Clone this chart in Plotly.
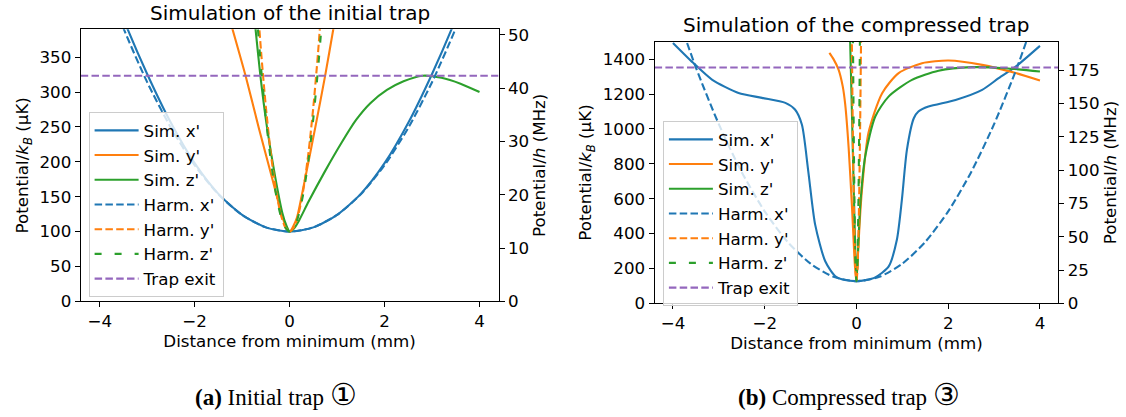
import plotly.graph_objects as go

# ---------------- data: initial trap (panel a) ----------------
init_x_grid = [-4.0, -3.5, -3.0, -2.5, -2.0, -1.5, -1.0, -0.5, 0.0, 0.5, 1.0, 1.5, 2.0, 2.5, 3.0, 3.5, 4.0]
init_sim_x = [497, 405, 326, 256, 198, 154, 124, 106, 100, 106, 124, 154, 198, 256, 326, 405, 497]
init_harm_x = [480.8, 391.6, 314.2, 248.8, 195.2, 153.6, 123.8, 106.0, 100.0, 106.0, 123.8, 153.6, 195.2, 248.8, 314.2, 391.6, 480.8]
init_sim_y_pos = [-1.35, -1.21, -0.93, -0.65, -0.37, -0.2, -0.1, 0.0, 0.08, 0.155, 0.33, 0.54, 0.75, 0.925, 1.0]
init_sim_y = [426, 392, 324, 249, 177, 133, 111, 100, 108, 120, 177, 249, 324, 392, 422]
init_sim_z_pos = [-0.8, -0.72, -0.616, -0.475, -0.3, -0.15, -0.07, 0.0, 0.1, 0.2, 0.4, 0.75, 1.1, 1.4, 1.7, 2.05, 2.4, 2.8, 3.2, 3.6, 4.0]
init_sim_z = [445, 392, 324, 249, 177, 126, 109, 100, 105, 116, 143, 187, 228, 260, 284, 303, 315.5, 323.5, 320.5, 312, 300]
init_harm_yz_pos = [-0.7, -0.6, -0.5, -0.4, -0.3, -0.2, -0.1, 0.0, 0.1, 0.2, 0.3, 0.4, 0.5, 0.6, 0.7]
init_harm_y = [450.4, 357.4, 278.8, 214.4, 164.4, 128.6, 107.2, 100.0, 107.2, 128.6, 164.4, 214.4, 278.8, 357.4, 450.4]
init_harm_z = [418.5, 334.0, 262.5, 204.0, 158.5, 126.0, 106.5, 100.0, 106.5, 126.0, 158.5, 204.0, 262.5, 334.0, 418.5]
init_trap_exit = 323.5

# ---------------- data: compressed trap (panel b) ----------------
comp_x_grid = [-4.0, -3.5, -3.0, -2.5, -2.0, -1.5, -1.0, -0.5, 0.0, 0.5, 1.0, 1.5, 2.0, 2.5, 3.0, 3.5, 4.0]
comp_harm_x = [1727, 1352, 1027, 752, 527, 352, 227, 152, 127, 152, 227, 352, 527, 752, 1027, 1352, 1727]
comp_sim_x_pos = [-4.0, -3.56, -3.15, -2.57, -2.06, -1.55, -1.34, -1.19, -1.05, -0.9, -0.68, -0.46, -0.25, 0.0,
                  0.2, 0.41, 0.7, 0.88, 0.99, 1.1, 1.25, 1.35, 1.57, 2.16, 2.74, 3.1, 3.47, 4.0]
comp_sim_x = [1493, 1379, 1283, 1206, 1178, 1149, 1111, 1025, 757, 451, 241, 155, 133, 127,
              133, 149, 210, 363, 593, 880, 1061, 1100, 1128, 1166, 1224, 1291, 1357, 1476]
comp_sim_y_pos = [-0.59, -0.5, -0.39, -0.3, -0.245, -0.17, -0.1, -0.03, 0.0, 0.03, 0.07, 0.12, 0.26, 0.56,
                  0.92, 1.43, 2.01, 2.74, 3.47, 4.0]
comp_sim_y = [1436, 1400, 1340, 1245, 1140, 891, 566, 203, 127, 270, 460, 650, 975, 1205,
              1320, 1377, 1392, 1367, 1320, 1277]
comp_sim_z_pos = [-0.14, -0.1, -0.05, 0.0, 0.04, 0.08, 0.19, 0.41, 0.7, 1.21, 1.79, 2.52, 3.25, 4.0]
comp_sim_z = [1530, 1110, 560, 127, 330, 554, 841, 1071, 1185, 1281, 1334, 1354, 1348, 1329]
comp_harm_y_pos = [-0.12, -0.1, -0.08, -0.06, -0.04, -0.02, 0.0, 0.02, 0.04, 0.06, 0.08, 0.1, 0.12]
comp_harm_z_pos = [-0.09, -0.075, -0.06, -0.045, -0.03, -0.015, 0.0, 0.015, 0.03, 0.045, 0.06, 0.075, 0.09]
comp_harm_yz = [2104, 1500, 1006, 621, 347, 182, 127, 182, 347, 621, 1006, 1500, 2104]
comp_trap_exit = 1352

uK_per_MHz = 7.638          # conversion between the two y scales
x_limits = [-4.4, 4.4]

# ---------------- style ----------------
FONT = "DejaVu Sans"
FS = 16.7
BLUE, ORANGE, GREEN, PURPLE = "#1f77b4", "#ff7f0e", "#2ca02c", "#9467bd"
LW = 2.1
W, H = 1126, 417

fig = go.Figure()


def add(x, y, name, color, dash, xa, ya, legend, shape="spline"):
    fig.add_trace(go.Scatter(
        x=x, y=y, name=name, mode="lines", xaxis=xa, yaxis=ya, legend=legend,
        line=dict(color=color, width=LW, dash=dash, shape=shape, smoothing=0.7),
        hoverinfo="skip"))


DASH = "7.5px,3.3px"
DASH_Z = "7px,13px"

for (xa, ya, leg, sx, sxx, syp, sy, szp, sz, hxx, hx, hyp, hy, hzp, hz, te) in [
    ("x", "y", "legend", init_x_grid, init_sim_x, init_sim_y_pos, init_sim_y, init_sim_z_pos, init_sim_z,
     init_x_grid, init_harm_x, init_harm_yz_pos, init_harm_y, init_harm_yz_pos, init_harm_z, init_trap_exit),
    ("x2", "y3", "legend2", comp_sim_x_pos, comp_sim_x, comp_sim_y_pos, comp_sim_y, comp_sim_z_pos, comp_sim_z,
     comp_x_grid, comp_harm_x, comp_harm_y_pos, comp_harm_yz, comp_harm_z_pos, comp_harm_yz, comp_trap_exit),
]:
    add(sx, sxx, "Sim. x'", BLUE, "solid", xa, ya, leg)
    add(syp, sy, "Sim. y'", ORANGE, "solid", xa, ya, leg)
    add(szp, sz, "Sim. z'", GREEN, "solid", xa, ya, leg)
    add(hxx, hx, "Harm. x'", BLUE, DASH, xa, ya, leg)
    add(hyp, hy, "Harm. y'", ORANGE, DASH, xa, ya, leg)
    add(hzp, hz, "Harm. z'", GREEN, DASH_Z, xa, ya, leg)
    add(x_limits, [te, te], "Trap exit", PURPLE, DASH, xa, ya, leg, shape="linear")

# empty traces so the secondary (MHz) axes are drawn
for xa, ya in [("x", "y2"), ("x2", "y4")]:
    fig.add_trace(go.Scatter(x=[None], y=[None], xaxis=xa, yaxis=ya, mode="lines",
                             showlegend=False, hoverinfo="skip"))

tickfont = dict(family=FONT, size=FS, color="black")
common = dict(showline=True, linecolor="black", linewidth=1.1, ticks="outside", ticklen=5,
              tickwidth=1.1, tickcolor="black", showgrid=False, zeroline=False,
              tickfont=tickfont, automargin=False)
title_font = dict(family=FONT, size=FS, color="black")

dom_x1 = [80.7 / W, 498.5 / W]
dom_y1 = [1 - 301.3 / H, 1 - 29.3 / H]
dom_x2 = [654.6 / W, 1058.3 / W]
dom_y2 = [1 - 303.3 / H, 1 - 41.7 / H]

init_top = 390
comp_top = 1500

legend_style = dict(xanchor="left", yanchor="top", bgcolor="rgba(255,255,255,0.8)",
                    bordercolor="#cccccc", borderwidth=1,
                    font=dict(family=FONT, size=FS, color="black"), itemwidth=44)

fig.update_layout(
    width=W, height=H,
    margin=dict(l=0, r=0, t=0, b=0),
    paper_bgcolor="white", plot_bgcolor="white",
    font=dict(family=FONT, size=FS, color="black"),
    xaxis=dict(common, domain=dom_x1, range=x_limits, tickvals=[-4, -2, 0, 2, 4], anchor="y", mirror=True,
               title=dict(text="Distance from minimum (mm)", font=title_font, standoff=4)),
    yaxis=dict(common, domain=dom_y1, range=[0, init_top], tickvals=list(range(0, 351, 50)), anchor="x",
               title=dict(text="Potential/<i>k</i><sub><i>B</i></sub> (µK)", font=title_font, standoff=6)),
    yaxis2=dict(common, overlaying="y", side="right", anchor="x", range=[0, init_top / uK_per_MHz],
                tickvals=list(range(0, 51, 10)),
                title=dict(text="Potential/<i>h</i> (MHz)", font=title_font, standoff=4)),
    xaxis2=dict(common, domain=dom_x2, range=x_limits, tickvals=[-4, -2, 0, 2, 4], anchor="y3", mirror=True,
                title=dict(text="Distance from minimum (mm)", font=title_font, standoff=4)),
    yaxis3=dict(common, domain=dom_y2, range=[0, comp_top], tickvals=list(range(0, 1401, 200)), anchor="x2",
                title=dict(text="Potential/<i>k</i><sub><i>B</i></sub> (µK)", font=title_font, standoff=6)),
    yaxis4=dict(common, overlaying="y3", side="right", anchor="x2", range=[0, comp_top / uK_per_MHz],
                tickvals=list(range(0, 176, 25)),
                title=dict(text="Potential/<i>h</i> (MHz)", font=title_font, standoff=4)),
    legend=dict(legend_style, x=88.6 / W, y=1 - 112 / H),
    legend2=dict(legend_style, x=662.9 / W, y=1 - 121 / H),
    showlegend=True,
)

# panel titles
fig.add_annotation(text="Simulation of the initial trap", x=(dom_x1[0] + dom_x1[1]) / 2, y=1 - 13.3 / H,
                   xref="paper", yref="paper", showarrow=False, xanchor="center", yanchor="middle",
                   font=dict(family=FONT, size=20, color="black"))
fig.add_annotation(text="Simulation of the compressed trap", x=(dom_x2[0] + dom_x2[1]) / 2, y=1 - 25 / H,
                   xref="paper", yref="paper", showarrow=False, xanchor="center", yanchor="middle",
                   font=dict(family=FONT, size=20, color="black"))

# captions
CAP = "Liberation Serif, DejaVu Serif, serif"
fig.add_annotation(text="<b>(a)</b> Initial trap <span style='font-size:30px'>①</span>", x=276 / W, y=1 - 394 / H,
                   xref="paper", yref="paper", showarrow=False, xanchor="center", yanchor="middle",
                   font=dict(family=CAP, size=23, color="black"))
fig.add_annotation(text="<b>(b)</b> Compressed trap <span style='font-size:30px'>③</span>", x=849 / W, y=1 - 394 / H,
                   xref="paper", yref="paper", showarrow=False, xanchor="center", yanchor="middle",
                   font=dict(family=CAP, size=23, color="black"))

fig.write_html("out.html")
